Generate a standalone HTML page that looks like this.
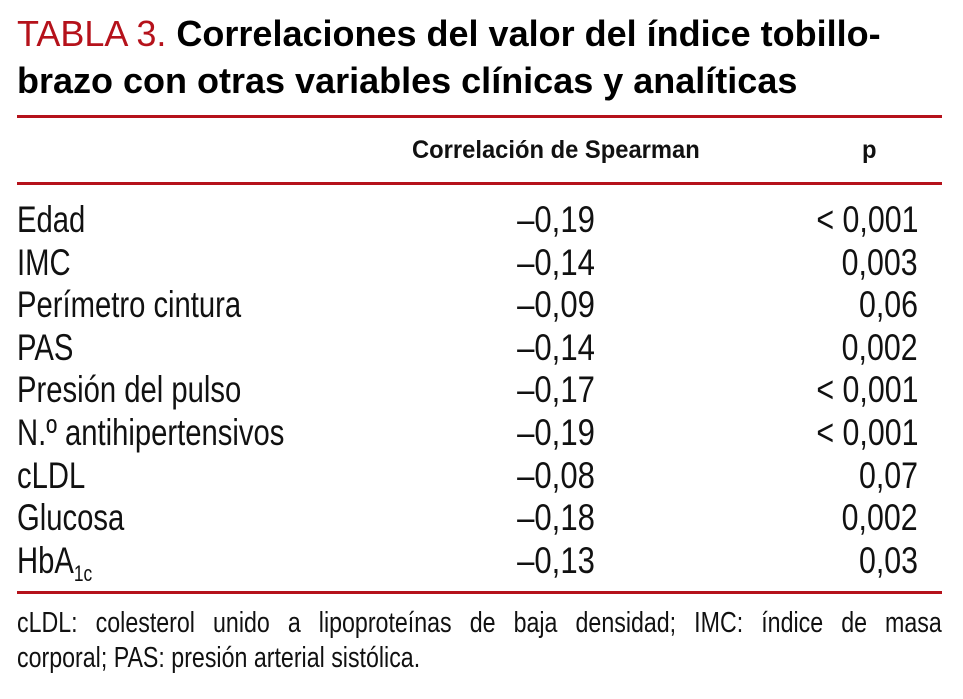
<!DOCTYPE html>
<html><head><meta charset="utf-8"><style>
body{margin:0;width:963px;height:699px;background:#fff;position:relative;overflow:hidden;font-family:"Liberation Sans",sans-serif;color:#111}
.t{position:absolute;white-space:nowrap}
.title{font-weight:bold;font-size:36px;left:17px;line-height:47px;top:10px;color:#000}
.title .red{color:#b5121b;font-weight:normal}
.rule{position:absolute;left:17px;width:925px;height:3px;background:#b5121b}
.hdr{font-weight:bold;font-size:25px;line-height:25px;top:138px;transform:scaleX(0.95);transform-origin:left}
.row{font-size:37px;line-height:37px}
.lab{left:17px;transform:scaleX(0.79);transform-origin:left}
.val{left:456px;width:200px;text-align:center;transform:scaleX(0.84);transform-origin:center}
.p{right:45px;text-align:right;transform:scaleX(0.82);transform-origin:right}
.foot{font-size:29px;left:17px;line-height:35px;width:1156px;transform:scaleX(0.8);transform-origin:left}
.j{text-align:justify;text-align-last:justify}
sub{font-size:22px;vertical-align:-8px}
</style></head><body>
<div class="t title"><span class="red">TABLA 3.</span> Correlaciones del valor del índice tobillo-<br>brazo con otras variables clínicas y analíticas</div>
<div class="rule" style="top:115px"></div>
<div class="t hdr" style="left:412px">Correlación de Spearman</div>
<div class="t hdr" style="left:862px">p</div>
<div class="rule" style="top:182px"></div>
<div id="rows"></div>
<div class="rule" style="top:591px"></div>
<div class="t foot j" style="top:606px;white-space:normal">cLDL: colesterol unido a lipoproteínas de baja densidad; IMC: índice de masa</div>
<div class="t foot" style="top:641px">corporal; PAS: presión arterial sistólica.</div>
<script>
const labels=["Edad","IMC","Perímetro cintura","PAS","Presión del pulso","N.º antihipertensivos","cLDL","Glucosa","HbA<sub>1c</sub>"];
const values=["–0,19","–0,14","–0,09","–0,14","–0,17","–0,19","–0,08","–0,18","–0,13"];
const pvals=["< 0,001","0,003","0,06","0,002","< 0,001","< 0,001","0,07","0,002","0,03"];
const c=document.getElementById('rows');
labels.forEach((l,i)=>{
  const top=201+i*42.6;
  const a=document.createElement('div');a.className='t row lab';a.style.top=top+'px';a.innerHTML=l;
  
  
  const b=document.createElement('div');b.className='t row val';b.style.top=top+'px';b.textContent=values[i];
  
  
  const d=document.createElement('div');d.className='t row p';d.style.top=top+'px';d.textContent=pvals[i];
  
  
  c.append(a,b,d);
});
</script>
</body></html>
